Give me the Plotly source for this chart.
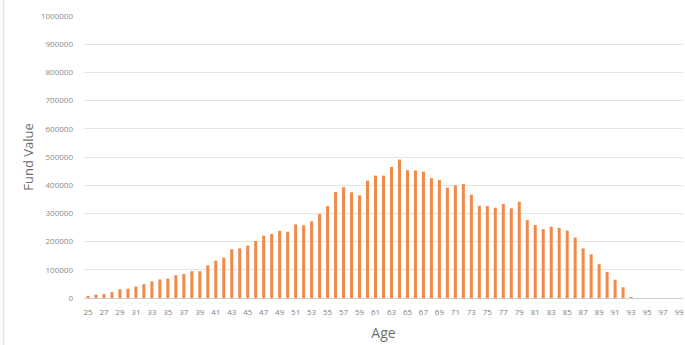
import plotly.graph_objects as go

ages = list(range(25, 100))
fund_value = [
    4000, 12000, 14000, 21000, 31000, 33000, 41000, 49000, 59000, 66000,
    69000, 81000, 85000, 95000, 95000, 116000, 132000, 143000, 173000, 176000,
    186000, 202000, 221000, 227000, 238000, 235000, 261000, 258000, 272000, 298000,
    326000, 376000, 393000, 375000, 364000, 416000, 434000, 434000, 465000, 491000,
    453000, 452000, 448000, 425000, 418000, 391000, 399000, 404000, 366000, 327000,
    326000, 320000, 333000, 318000, 341000, 276000, 259000, 244000, 253000, 249000,
    239000, 214000, 176000, 155000, 120000, 92000, 65000, 38000, 2000, 0,
    0, 0, 0, 0, 0,
]
y_ticks = list(range(0, 1000001, 100000))

fig = go.Figure(
    go.Bar(
        x=[str(a) for a in ages],
        y=fund_value,
        marker=dict(color="#EF8A4A", line=dict(width=0)),
    )
)

fig.update_layout(
    width=685,
    height=345,
    margin=dict(l=84, r=2, t=16, b=47),
    paper_bgcolor="white",
    plot_bgcolor="white",
    bargap=0.62,
    showlegend=False,
    font=dict(family="Open Sans, Calibri, sans-serif", color="#7f7f7f"),
    shapes=[
        dict(type="line", xref="paper", yref="paper", x0=-0.134, x1=-0.134,
             y0=-0.2, y1=1.1, line=dict(color="#d9d9d9", width=1)),
    ],
)

fig.update_xaxes(
    type="category",
    tickmode="array",
    tickvals=[str(a) for a in ages[::2]],
    ticktext=[str(a) for a in ages[::2]],
    tickfont=dict(size=8, color="#7f7f7f"),
    showgrid=False,
    showline=True,
    linecolor="#d0d0d0",
    linewidth=1,
    ticks="",
    ticklabelstandoff=6,
    range=[-0.5, len(ages) - 0.5],
    title=dict(text="Age", font=dict(size=14, color="#6f6f6f"), standoff=12),
)

fig.update_yaxes(
    range=[0, 1000000],
    tickmode="array",
    tickvals=y_ticks,
    ticktext=[str(v) for v in y_ticks],
    tickfont=dict(size=8, color="#8a8a8a"),
    showgrid=True,
    gridcolor="#e4e4e4",
    gridwidth=1,
    zeroline=False,
    ticks="",
    ticklabelstandoff=10,
    title=dict(text="Fund Value", font=dict(size=13, color="#6f6f6f"), standoff=4),
)

fig.write_html("out.html")
